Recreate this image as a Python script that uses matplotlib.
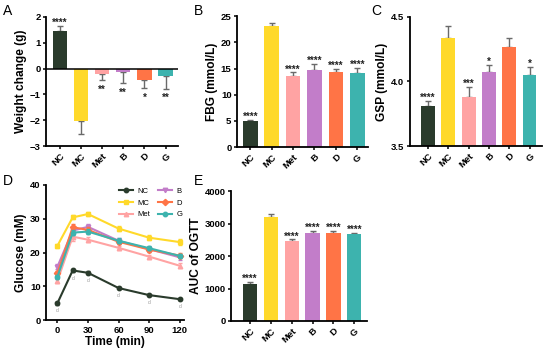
import matplotlib
matplotlib.use('Agg')
import matplotlib.pyplot as plt
import numpy as np

plt.rcParams['font.family'] = ['Liberation Sans', 'DejaVu Sans']

# Data
groups = ['NC', 'MC', 'Met', 'B', 'D', 'G']
colors = ['#2A3B2C', '#FFD92A', '#FFA3A3', '#C27DC9', '#FF7446', '#3DB3AE']

weight = [1.47, -2.05, -0.22, -0.15, -0.45, -0.30]
weight_err = [0.17, 0.47, 0.23, 0.42, 0.30, 0.48]
weight_sig = ['****', '', '**', '**', '*', '**']

fbg = [4.95, 23.2, 13.5, 14.8, 14.4, 14.1]
fbg_err = [0.25, 0.5, 0.75, 1.0, 0.6, 1.0]
fbg_sig = ['****', '', '****', '****', '****', '****']

gsp = [3.81, 4.34, 3.88, 4.07, 4.27, 4.05]
gsp_err = [0.04, 0.09, 0.08, 0.06, 0.07, 0.06]
gsp_sig = ['****', '', '***', '*', '', '*']

auc = [1150, 3200, 2450, 2720, 2700, 2680]
auc_err = [40, 90, 60, 60, 80, 40]
auc_sig = ['****', '', '****', '****', '****', '****']

time = [0, 15, 30, 60, 90, 120]
ogtt = {
    'NC': [5.0, 14.7, 14.0, 9.5, 7.4, 6.2],
    'MC': [22.0, 30.4, 31.4, 27.1, 24.4, 23.1],
    'Met': [11.6, 24.7, 23.8, 21.4, 18.8, 16.1],
    'B': [15.8, 26.5, 27.6, 23.5, 21.0, 18.6],
    'D': [13.8, 27.5, 26.7, 23.2, 20.9, 19.1],
    'G': [12.8, 25.9, 26.2, 23.5, 21.3, 19.0],
}
ogtt_err = {
    'NC': [0.4, 0.5, 0.4, 0.3, 0.3, 0.3],
    'MC': [0.6, 0.6, 0.5, 0.8, 0.7, 0.9],
    'Met': [0.6, 1.2, 0.7, 0.6, 0.6, 0.8],
    'B': [0.8, 1.0, 0.8, 0.9, 0.7, 0.8],
    'D': [0.7, 0.9, 0.8, 0.6, 0.6, 0.7],
    'G': [0.6, 0.8, 0.7, 0.7, 0.6, 0.7],
}
markers = {'NC': 'o', 'MC': 's', 'Met': '^', 'B': 'v', 'D': 'D', 'G': 'o'}

fig = plt.figure(figsize=(5.5, 3.51), dpi=100)

tick_fs = 6.8
label_fs = 8.6
star_fs = 7


def style_axes(ax):
    for s in ['top', 'right']:
        ax.spines[s].set_visible(False)
    for s in ['left', 'bottom']:
        ax.spines[s].set_linewidth(1.3)
    ax.tick_params(width=1.1, length=2.5, labelsize=tick_fs, pad=1.5)
    for lab in ax.get_yticklabels():
        lab.set_fontweight('bold')


def bar_panel(ax, vals, errs, sig, ylabel, ylim, yticks, xlim, neg_axis=False):
    x = np.arange(len(groups))
    base = ylim[0] if not neg_axis else 0
    heights = [v - base for v in vals]
    ax.bar(x, heights, bottom=base, width=0.68, color=colors, zorder=2)
    for i, (v, e) in enumerate(zip(vals, errs)):
        if v >= 0 or not neg_axis:
            ax.errorbar(i, v, yerr=[[0], [e]], color='#6a6a6a', capsize=2,
                        elinewidth=1.0, capthick=1.0, zorder=1)
        else:
            ax.errorbar(i, v, yerr=[[e], [0]], color='#6a6a6a', capsize=2,
                        elinewidth=1.0, capthick=1.0, zorder=1)
    span = ylim[1] - ylim[0]
    for i, (v, e, s) in enumerate(zip(vals, errs, sig)):
        if not s:
            continue
        if v >= 0 or not neg_axis:
            ax.text(i, v + e - span * 0.015, s, ha='center', va='bottom',
                    fontsize=star_fs, fontweight='bold', color='#222222')
        else:
            ax.text(i, v - e - span * 0.035, s, ha='center', va='top',
                    fontsize=star_fs, fontweight='bold', color='#222222')
    ax.set_ylim(*ylim)
    ax.set_yticks(yticks)
    ax.set_xlim(*xlim)
    ax.set_xticks(x)
    ax.set_xticklabels(groups, rotation=45, fontweight='bold', fontsize=tick_fs,
                       ha='right', rotation_mode='anchor')
    ax.set_ylabel(ylabel, fontsize=label_fs, fontweight='bold', labelpad=2)
    style_axes(ax)
    if neg_axis:
        ax.axhline(0, color='black', lw=1.1, zorder=3)


# Panel A
axA = fig.add_axes([0.084, 0.584, 0.24, 0.368])
bar_panel(axA, weight, weight_err, weight_sig, 'Weight change (g)',
          (-3, 2), [-3, -2, -1, 0, 1, 2], (-0.65, 5.6), neg_axis=True)

# Panel B
axB = fig.add_axes([0.431, 0.581, 0.238, 0.373])
bar_panel(axB, fbg, fbg_err, fbg_sig, 'FBG (mmol/L)',
          (0, 25), [0, 5, 10, 15, 20, 25], (-0.62, 5.5))

# Panel C
axC = fig.add_axes([0.745, 0.584, 0.24, 0.368])
bar_panel(axC, gsp, gsp_err, gsp_sig, 'GSP (mmol/L)',
          (3.5, 4.5), [3.5, 4.0, 4.5], (-0.9, 5.6))

# Panel D
axD = fig.add_axes([0.084, 0.088, 0.25, 0.385])
for g, c in zip(groups, colors):
    z = 3 if g == 'NC' else 2
    axD.errorbar(time, ogtt[g], yerr=ogtt_err[g], fmt='none', ecolor=c,
                 elinewidth=0.6, capsize=1.2, zorder=z)
    axD.plot(time, ogtt[g], color=c, marker=markers[g], markersize=3.2,
             lw=1.5, label=g, zorder=z)
for t, v in zip(time, ogtt['NC']):
    axD.text(t, v - 1.5, 'd', fontsize=3.5, color='#999999', ha='center', va='top')
axD.set_xlim(-11, 124)
axD.set_ylim(0, 40)
axD.set_xticks([0, 30, 60, 90, 120])
axD.set_yticks([0, 10, 20, 30, 40])
axD.set_xlabel('Time (min)', fontsize=label_fs, fontweight='bold', labelpad=1)
axD.set_ylabel('Glucose (mM)', fontsize=label_fs, fontweight='bold', labelpad=2)
style_axes(axD)
for lab in axD.get_xticklabels():
    lab.set_fontweight('bold')
axD.legend(ncol=2, fontsize=5.5, frameon=False, loc='upper right',
           bbox_to_anchor=(1.04, 1.03), handlelength=1.8, columnspacing=1.0,
           labelspacing=0.55, handletextpad=0.6)

# Panel E
axE = fig.add_axes([0.42, 0.0855, 0.247, 0.37])
bar_panel(axE, auc, auc_err, auc_sig, 'AUC of OGTT',
          (0, 4000), [0, 1000, 2000, 3000, 4000], (-0.9, 5.6))

# Panel letters
for txt, x, y in [('A', 0.005, 0.95), ('B', 0.352, 0.95), ('C', 0.675, 0.95),
                  ('D', 0.005, 0.465), ('E', 0.352, 0.465)]:
    fig.text(x, y, txt, fontsize=10, va='bottom', ha='left')

fig.savefig('out.png', dpi=100)
